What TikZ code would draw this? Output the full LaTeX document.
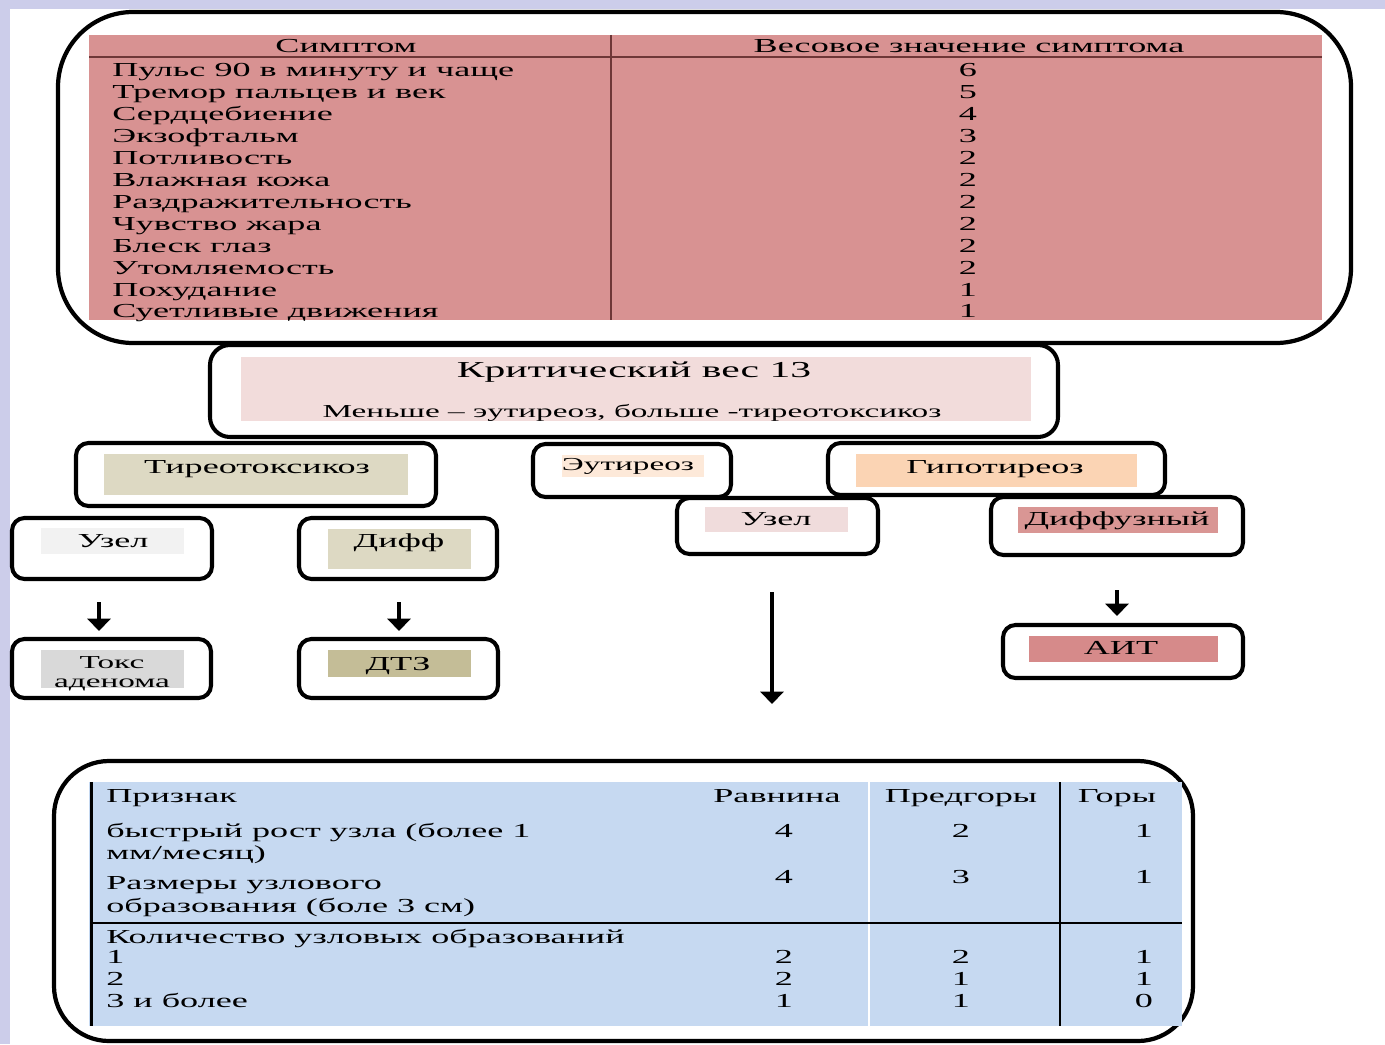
\documentclass[tikz,border=0pt]{standalone}
\usepackage{fontspec}
\setmainfont{Liberation Serif}[FakeStretch=1.82]
\usetikzlibrary{arrows.meta}
\definecolor{lav}{RGB}{204,205,234}
\definecolor{pinkT}{RGB}{216,146,146}
\definecolor{tline}{RGB}{110,55,55}
\definecolor{critfill}{RGB}{242,220,219}
\definecolor{tirfill}{RGB}{221,217,195}
\definecolor{eutfill}{RGB}{253,233,217}
\definecolor{hypofill}{RGB}{251,212,180}
\definecolor{grayfill}{RGB}{242,242,242}
\definecolor{uzpink}{RGB}{240,220,220}
\definecolor{diffpink}{RGB}{217,150,148}
\definecolor{toksfill}{RGB}{217,217,217}
\definecolor{dtzfill}{RGB}{196,189,151}
\definecolor{aitfill}{RGB}{214,138,138}
\definecolor{bluefill}{RGB}{198,217,241}
\tikzset{
  obox/.style={draw=black, line width=2.3pt, rounded corners=0.25cm, fill=white},
  bigbox/.style={draw=black, line width=2.4pt},
  tc/.style={inner sep=0pt, anchor=base},
  tw/.style={inner sep=0pt, anchor=base west},
  fa/.style={font=\fontsize{11.3}{12.5}\selectfont},
  fb/.style={font=\fontsize{13.0}{15}\selectfont},
  fc/.style={font=\fontsize{10.4}{12}\selectfont},
  arr/.style={line width=2.8pt, -{Triangle[width=13pt,length=7pt]}},
  thin/.style={line width=1pt},
}
\begin{document}
\begin{tikzpicture}[x=0.02cm, y=-0.02cm]
\useasboundingbox (0,0) rectangle (1385,1044);
\fill[white] (0,0) rectangle (1385,1044);
\fill[lav] (0,0) rectangle (10,1044);
\fill[lav] (0,0) rectangle (1385,9);

% ---------- top table ----------
\draw[bigbox, rounded corners=1.5cm] (58,12) rectangle (1351,343);
\fill[pinkT] (89,35) rectangle (1322,320);
\draw[thin, tline] (89,57) -- (1322,57);
\draw[thin, tline] (611,35) -- (611,320);
\node[tc,fa] (h1) at (346,53) {Симптом};
\node[tc,fa] (h2) at (969,53) {Весовое значение симптома};
\foreach \t/\n [count=\i from 0] in {Пульс 90 в минуту и чаще/6, Тремор пальцев и век/5, Сердцебиение/4, Экзофтальм/3, Потливость/2, Влажная кожа/2, Раздражительность/2, Чувство жара/2, Блеск глаз/2, Утомляемость/2, Похудание/1, Суетливые движения/1}{
  \node[tw,fa] (s\i) at (112,{77+21.9*\i}) {\t};
  \node[tc,fa] (w\i) at (968,{77+21.9*\i}) {\n};
}

% ---------- critical weight ----------
\draw[obox, rounded corners=0.4cm] (210,345) rectangle (1058,437);
\fill[critfill] (241,357) rectangle (1031,421);
\node[tc,fb] (crit) at (634,377) {Критический вес 13};
\node[tc,fc] (critsub) at (632,417) {Меньше – эутиреоз, больше -тиреотоксикоз};

% ---------- level 1 ----------
\draw[obox] (76,443) rectangle (436,506);
\fill[tirfill] (104,454) rectangle (408,495);
\node[tc,fa] (tir) at (257,473) {Тиреотоксикоз};

\draw[obox] (533,444) rectangle (731,497);
\fill[eutfill] (562,455) rectangle (704,477);
\node[tc,fc] (eut) at (628,470) {Эутиреоз};

\draw[obox] (828,443) rectangle (1165,495);
\fill[hypofill] (856,454) rectangle (1137,487);
\node[tc,fa] (hypo) at (995,473) {Гипотиреоз};

% ---------- level 2 ----------
\draw[obox] (12,518) rectangle (212,579);
\fill[grayfill] (41,528) rectangle (184,554);
\node[tc,fa] (uz1) at (113,547) {Узел};

\draw[obox] (299,518) rectangle (497,579);
\fill[tirfill] (328,529) rectangle (471,569);
\node[tc,fa] (dif) at (399,547) {Дифф};

\draw[obox] (677,498) rectangle (878,554);
\fill[uzpink] (705,507) rectangle (848,532);
\node[tc,fa] (uz2) at (776,525) {Узел};

\draw[obox] (991,497) rectangle (1243,555);
\fill[diffpink] (1018,507) rectangle (1218,533);
\node[tc,fa] (diffz) at (1117,525) {Диффузный};

% ---------- arrows ----------
\coordinate (a1s) at (99,602);  \coordinate (a1e) at (99,631);
\coordinate (a2s) at (399,602); \coordinate (a2e) at (399,631);
\coordinate (a3s) at (1117,590); \coordinate (a3e) at (1117,616);
\coordinate (a4s) at (772,592); \coordinate (a4e) at (772,704);
\draw[arr] (a1s) -- (a1e);
\draw[arr] (a2s) -- (a2e);
\draw[arr] (a3s) -- (a3e);
\draw[arr] (a4s) -- (a4e);

% ---------- level 3 ----------
\draw[obox] (12,639) rectangle (211,698);
\fill[toksfill] (41,650) rectangle (184,688);
\node[tc,fc] (toks1) at (112,668) {Токс};
\node[tc,fc] (toks2) at (112,687) {аденома};

\draw[obox] (299,639) rectangle (498,698);
\fill[dtzfill] (328,650) rectangle (471,677);
\node[tc,fa] (dtz) at (398,670) {ДТЗ};

\draw[obox] (1003,625) rectangle (1243,678);
\fill[aitfill] (1029,636) rectangle (1218,662);
\node[tc,fa] (ait) at (1121,654) {АИТ};

% ---------- bottom table ----------
\draw[bigbox, rounded corners=1.1cm] (54,761) rectangle (1193,1041);
\fill[bluefill] (89,782) rectangle (1182,1026);
\draw[line width=1.3pt] (91.5,782) -- (91.5,1026);
\draw[line width=1.3pt] (91.5,923) -- (1182,923);
\draw[line width=1.5pt, white] (869,782) -- (869,922);
\draw[line width=1.5pt, white] (869,924) -- (869,1026);
\draw[line width=1.3pt] (1060,782) -- (1060,1026);

\node[tw,fa] (p0) at (106,802) {Признак};
\node[tc,fa] (c1) at (777,802) {Равнина};
\node[tc,fa] (c2) at (961,802) {Предгоры};
\node[tc,fa] (c3) at (1117,802) {Горы};

\node[tw,fa] (p1a) at (106,837) {быстрый рост узла (более 1};
\node[tw,fa] (p1b) at (106,859) {мм/месяц)};
\node[tw,fa] (p2a) at (106,889) {Размеры узлового};
\node[tw,fa] (p2b) at (106,912) {образования (боле 3 см)};
\node[tw,fa] (p3) at (106,943) {Количество узловых образований};
\node[tw,fa] (p3a) at (106,963) {1};
\node[tw,fa] (p3b) at (106,985) {2};
\node[tw,fa] (p3c) at (106,1007) {3 и более};

\foreach \y/\a/\b/\c [count=\k] in {837/4/2/1, 883/4/3/1, 963/2/2/1, 985/2/1/1, 1007/1/1/0}{
  \node[tc,fa] (r\k a) at (784,\y) {\a};
  \node[tc,fa] (r\k b) at (961,\y) {\b};
  \node[tc,fa] (r\k c) at (1144,\y) {\c};
}
\end{tikzpicture}
\end{document}
